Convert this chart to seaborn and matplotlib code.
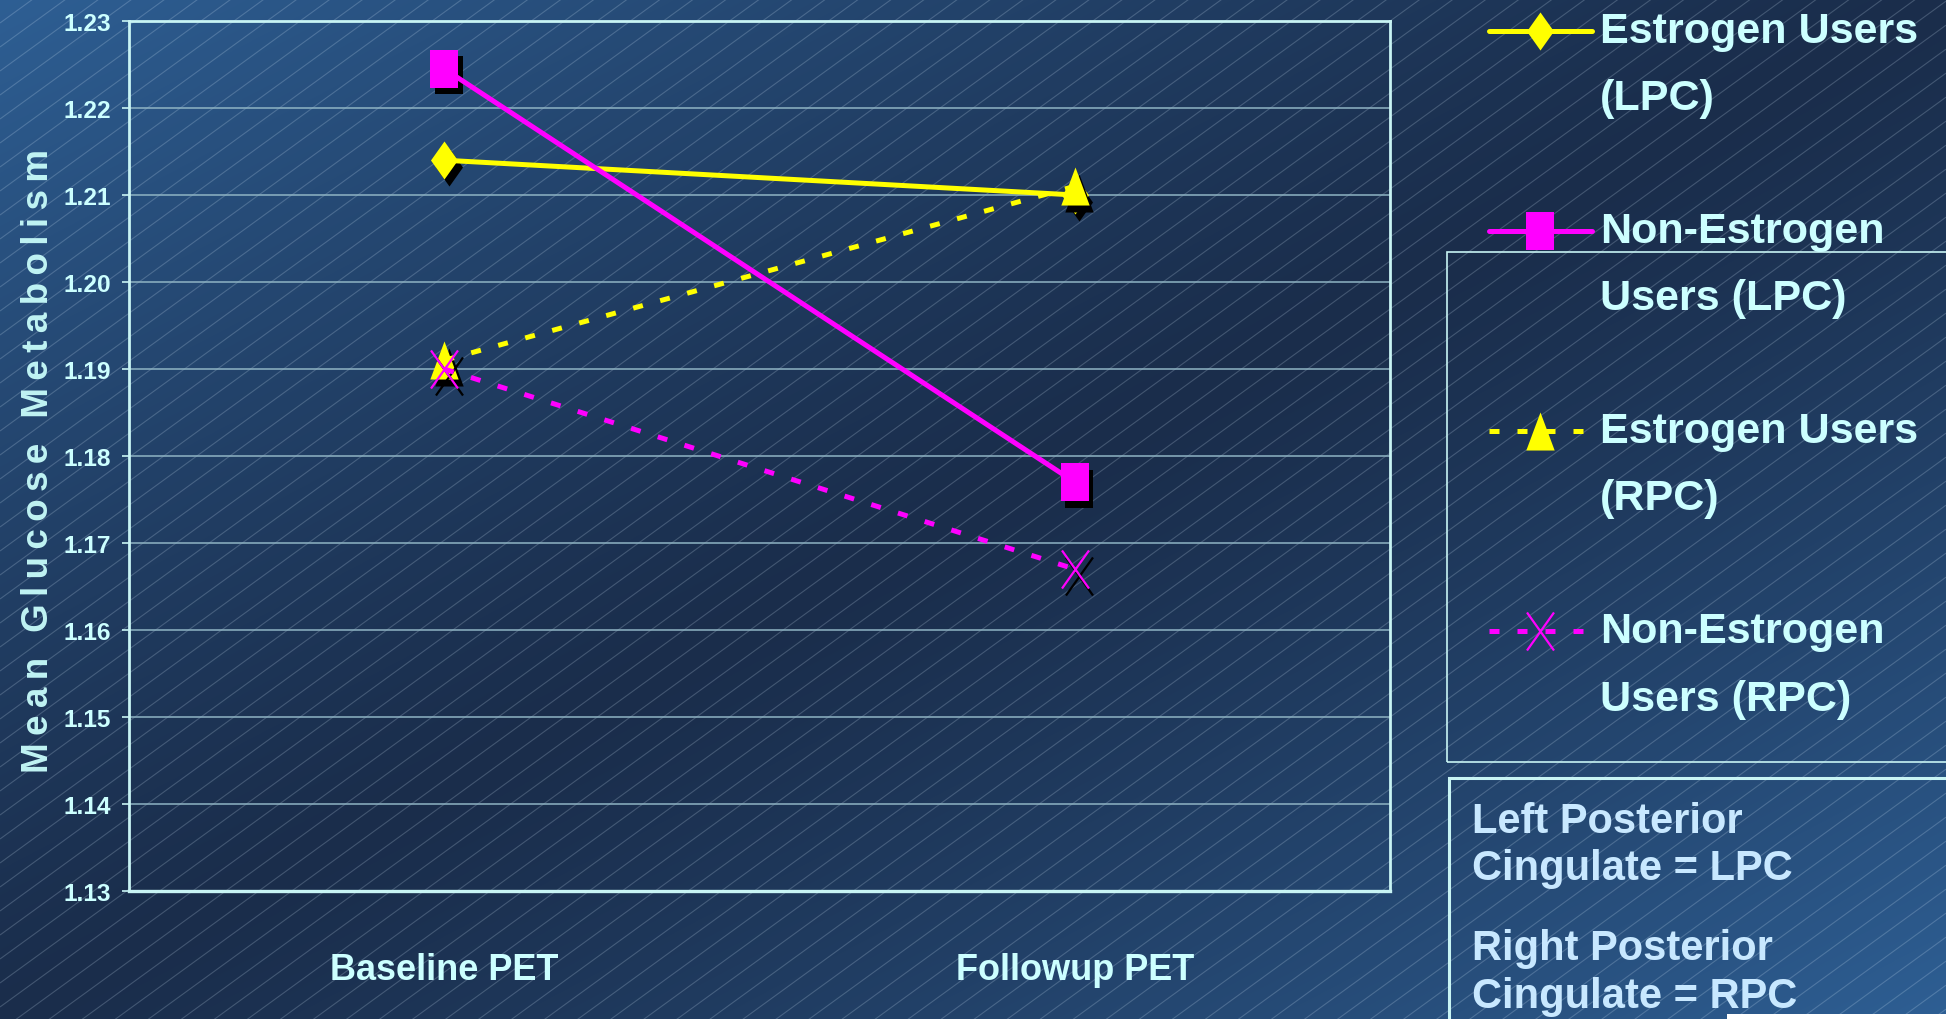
import numpy as np
import pandas as pd
import matplotlib
matplotlib.use("Agg")
import matplotlib.pyplot as plt
import seaborn as sns
from matplotlib.path import Path
from matplotlib.patches import Rectangle
from matplotlib.collections import LineCollection
from matplotlib.legend_handler import HandlerLine2D
from matplotlib.transforms import ScaledTranslation
from matplotlib.ticker import FormatStrFormatter
from matplotlib import font_manager as fm

# ---------------- data ----------------
timepoints = ["Baseline PET", "Followup PET"]
estrogen_lpc = [1.214, 1.210]
non_estrogen_lpc = [1.2245, 1.177]
estrogen_rpc = [1.191, 1.211]
non_estrogen_rpc = [1.190, 1.167]
series_labels = ["Estrogen Users\n(LPC)", "Non-Estrogen\nUsers (LPC)",
                 "Estrogen Users\n(RPC)", "Non-Estrogen\nUsers (RPC)"]
y_ticks = [1.13, 1.14, 1.15, 1.16, 1.17, 1.18, 1.19, 1.20, 1.21, 1.22, 1.23]
ylabel_text = "Mean Glucose Metabolism"
note_lines = ["Left Posterior", "Cingulate = LPC", "Right Posterior", "Cingulate = RPC"]

# ---------------- style ----------------
sns.set_theme(style="white")
names = {f.name for f in fm.fontManager.ttflist}
if "Liberation Sans Narrow" in names:
    NARROW, SCALE = "Liberation Sans Narrow", 1.0
else:
    NARROW, SCALE = "Liberation Sans", 0.84
plt.rcParams["font.family"] = [NARROW, "DejaVu Sans"]
plt.rcParams["font.weight"] = "bold"

W, H = 1946, 1020
fig = plt.figure(figsize=(W / 100, H / 100), dpi=100)

# background gradient + diagonal pattern
bg = fig.add_axes([0, 0, 1, 1], zorder=-10)
bg.set_axis_off()
yy, xx = np.mgrid[0:H, 0:W]
t = np.clip(np.abs(xx / W + yy / H - 1.0), 0, 1) ** 1.2
dark = np.array([0x1a, 0x2d, 0x4b]) / 255
light = np.array([0x2e, 0x5f, 0x94]) / 255
img = dark[None, None, :] + (light - dark)[None, None, :] * t[..., None]
bg.imshow(img, extent=[0, W, H, 0], aspect="auto", interpolation="bilinear")
bg.set_xlim(0, W)
bg.set_ylim(H, 0)
ang = np.tan(np.deg2rad(36))
segs = [[(0, c), (W, c - W * ang)] for c in np.arange(0, H + W * ang + 24, 24)]
bg.add_collection(LineCollection(segs, colors=[(0.82, 0.9, 0.97, 0.22)], linewidths=0.8))

# ---------------- main axes ----------------
ax = fig.add_axes([129 / W, 1 - 892 / H, (1390 - 129) / W, (892 - 22) / H])
ax.set_facecolor("none")

ar = 0.355
sq = Path([(-ar, -.5), (ar, -.5), (ar, .5), (-ar, .5), (-ar, -.5)], closed=True)
dia = Path([(0, .5), (ar, 0), (0, -.5), (-ar, 0), (0, .5)], closed=True)
tri = Path([(0, .5), (ar * 1.05, -.5), (-ar * 1.05, -.5), (0, .5)], closed=True)
xm = Path([(-ar, -.5), (ar, .5), (-ar, .5), (ar, -.5)],
          [Path.MOVETO, Path.LINETO, Path.MOVETO, Path.LINETO])

YEL, MAG = "#ffff00", "#ff00ff"
specs = [
    (estrogen_lpc, YEL, "-", dia, YEL, 0.0),
    (non_estrogen_lpc, MAG, "-", sq, MAG, 0.0),
    (estrogen_rpc, YEL, (0, (2.0, 3.6)), tri, YEL, 0.0),
    (non_estrogen_rpc, MAG, (0, (2.0, 3.6)), xm, "none", 1.6),
]
MS = 27.4
shadow = ax.transData + ScaledTranslation(4.5 / 100, -6.5 / 100, fig.dpi_scale_trans)
handles = []
for i, (vals, col, ls, mk, mfc, mew) in enumerate(specs):
    df = pd.DataFrame({"time": timepoints, "value": vals})
    # shadow of markers
    sns.lineplot(data=df, x="time", y="value", ax=ax, sort=False, linestyle="none",
                 marker=mk, markersize=MS, color="black", markerfacecolor="black" if mfc != "none" else "none",
                 markeredgecolor="black", markeredgewidth=mew if mew else 0.0,
                 transform=shadow, zorder=3 + 2 * i, legend=False)
    sns.lineplot(data=df, x="time", y="value", ax=ax, sort=False, linestyle=ls, linewidth=3.6,
                 color=col, marker=mk, markersize=MS, markerfacecolor=mfc,
                 markeredgecolor=col, markeredgewidth=mew, zorder=4 + 2 * i,
                 label=series_labels[i], legend=False)
    handles.append(ax.lines[-1])
if ax.get_legend() is not None:
    ax.get_legend().remove()

ax.set_xlim(-0.5, 1.5)
ax.set_ylim(1.13, 1.23)
ax.set_yticks(y_ticks)
ax.yaxis.set_major_formatter(FormatStrFormatter("%.2f"))
ax.set_axisbelow(True)
ax.grid(axis="y", color="#8fb4c4", linewidth=1.1)
ax.grid(axis="x", visible=False)
ax.set_xticks([0, 1])
ax.set_xticklabels(timepoints)
ax.set_xticks([-0.5, 0.5, 1.5], minor=True)
ax.set_xlabel("")
TXT = "#ccffff"
EDGE = "#c8f4f4"
ax.tick_params(axis="x", which="major", length=0, pad=44, labelsize=31 * SCALE, labelcolor=TXT)
ax.tick_params(axis="x", which="minor", length=11, width=1.0, color=EDGE, direction="out")
ax.tick_params(axis="y", which="major", left=True, length=5, width=1.2, color=EDGE, pad=8,
               labelsize=21 * SCALE, labelcolor=TXT, direction="out")
for s in ax.spines.values():
    s.set_visible(True)
    s.set_color(EDGE)
    s.set_linewidth(2.0)
ax.spines["bottom"].set_linewidth(2.4)

THIN = "\u2009"
spaced = (THIN + " " + THIN).join(THIN.join(w) for w in ylabel_text.split())
ax.set_ylabel(spaced, fontsize=26.5, color="#c0f4f4", fontweight="bold",
              family=["Liberation Sans", "DejaVu Sans"])
ax.yaxis.set_label_coords((56 - 129) / (1390 - 129), 0.495)


class HandlerUp(HandlerLine2D):
    def __init__(self, dy, **kw):
        super().__init__(**kw)
        self.dy = dy

    def create_artists(self, legend, orig_handle, xdescent, ydescent, width, height, fontsize, trans):
        return super().create_artists(legend, orig_handle, xdescent, ydescent - 2 * self.dy,
                                      width, height, fontsize, trans)


LFS = 37 * SCALE
leg = fig.legend(handles, series_labels, loc="upper left", bbox_to_anchor=(1489 / W, 1 - 12 / H),
                 frameon=False, borderpad=0, borderaxespad=0, handlelength=2.0 / SCALE,
                 handletextpad=0.19, labelspacing=2.15, prop={"family": NARROW, "weight": "bold", "size": LFS},
                 labelcolor=TXT, handler_map={h: HandlerUp(24.6) for h in handles})
for tx in leg.get_texts():
    tx.set_linespacing(1.88)

# legend frame and note box
fig.patches.append(Rectangle((1447 / W, 1 - 763 / H), 0.5, 0.5, transform=fig.transFigure,
                             fill=False, edgecolor=EDGE, linewidth=1.2, zorder=1))
fig.patches.append(Rectangle((1449 / W, -0.2), 0.5, 0.2 + (1 - 779 / H), transform=fig.transFigure,
                             fill=False, edgecolor=EDGE, linewidth=2.2, zorder=1))
fig.patches.append(Rectangle((1727 / W, 0), 0.5, 5 / H, transform=fig.transFigure,
                             facecolor="white", edgecolor="none", zorder=1))
for line, yb in zip(note_lines, [833, 880, 960, 1008]):
    fig.text(1472 / W, 1 - yb / H, line, ha="left", va="baseline", fontsize=30,
             family=["Liberation Sans", "DejaVu Sans"], fontweight="bold", color="#c8e8ff")

fig.savefig("out.png", dpi=100, facecolor=fig.get_facecolor())
